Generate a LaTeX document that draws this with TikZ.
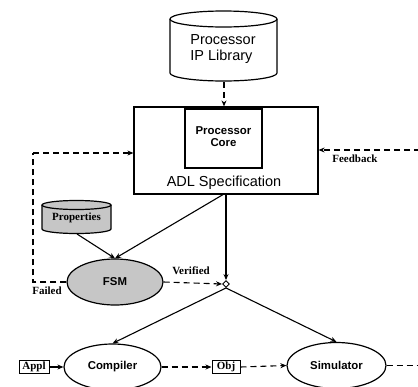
\documentclass[tikz,border=0pt]{standalone}
\usepackage{fontspec}
\setmainfont{Liberation Serif}
\setsansfont{Liberation Sans}
\usetikzlibrary{shapes.geometric,arrows.meta}
\tikzset{
  sanslab/.style={font=\sffamily\fontsize{14.5}{16}\selectfont, align=left, inner sep=0pt},
  sansbold/.style={font=\sffamily\bfseries\fontsize{11.4}{11.5}\selectfont, align=center, inner sep=0pt},
  serifbold/.style={font=\rmfamily\bfseries\fontsize{11}{12}\selectfont, inner sep=0pt},
  shapeline/.style={line width=1.2pt},
  conn/.style={line width=1.1pt, -{Stealth[length=6pt,width=5pt]}},
  dashconn/.style={conn, dash pattern=on 6pt off 4pt},
  dashline/.style={line width=1.1pt, dash pattern=on 6pt off 4pt},
  tagbox/.style={draw, line width=1pt, font=\rmfamily\bfseries\fontsize{11}{12}\selectfont, inner sep=1.2pt, minimum height=13pt},
  oval/.style={ellipse, draw, shapeline, inner sep=0pt},
}
\begin{document}
\begin{tikzpicture}[x=1pt,y=1pt]
\useasboundingbox (0,0) rectangle (418,-386);
\clip (0,0) rectangle (418,-386);
% Processor IP Library cylinder
\draw[shapeline, fill=white] (170,-19) -- (170,-73) arc[start angle=180, end angle=360, x radius=53.5, y radius=8] -- (277,-19);
\draw[shapeline] (223.5,-19) ellipse[x radius=53.5, y radius=8];
\node[sanslab] (iplib) at (223,-49.5) {Processor\\IP Library};
\coordinate (ipbot) at (224,-82);
% ADL specification
\node[draw, shapeline, minimum width=184pt, minimum height=87pt] (adl) at (226,-150.5) {};
\node[draw, shapeline, minimum width=77pt, minimum height=59pt] (core) at (223.5,-138.5) {};
\node[sansbold] (coretxt) at (223.5,-136.5) {Processor\\Core};
\node[sanslab] (adltxt) at (224,-183) {ADL Specification};
% Properties cylinder
\draw[shapeline, fill=gray!45] (42,-205) -- (42,-229) arc[start angle=180, end angle=360, x radius=34.5, y radius=4.5] -- (111,-205);
\draw[shapeline, fill=gray!45] (76.5,-205) ellipse[x radius=34.5, y radius=4.5];
\node[serifbold] (props) at (76.5,-217.5) {Properties};
\coordinate (propsb) at (77,-234);
% FSM
\node[oval, fill=gray!45, minimum width=96pt, minimum height=46pt] (fsm) at (115,-282) {};
\node[sansbold] (fsmtxt) at (115,-282) {FSM};
% junction
\node[diamond, draw, line width=0.9pt, fill=white, minimum width=7pt, minimum height=7pt, inner sep=0pt] (dia) at (226,-284) {};
% Compiler and Simulator
\node[oval, minimum width=97pt, minimum height=46pt] (comp) at (112.5,-367) {};
\node[sansbold] (comptxt) at (112.5,-367) {Compiler};
\node[oval, minimum width=99pt, minimum height=46pt] (sim) at (336.5,-365.5) {};
\node[sansbold] (simtxt) at (336.5,-365) {Simulator};
\node[tagbox, minimum width=30pt] (appl) at (34,-367) {Appl};
\node[tagbox, minimum width=28pt] (obj) at (226,-367) {Obj};
% labels
\node[serifbold] (failed) at (47,-291) {Failed};
\node[serifbold] (feedback) at (355,-159) {Feedback};
\node[serifbold] (verified) at (191,-271) {Verified};
% loop coordinates
\coordinate (lc) at (33,-282);
\coordinate (lt) at (33,-153);
\coordinate (fbr) at (420,-150);
\coordinate (simr) at (420,-365.5);
% connectors
\draw[dashconn] (ipbot) -- (ipbot |- adl.north);
\draw[dashline] (fsm.west) -- (lc) -- (lt);
\draw[dashconn] (lt) -- (lt -| adl.west);
\draw[dashconn] (fbr) -- (fbr -| adl.east);
\draw[conn] (propsb) -- (fsm.north);
\draw[conn] ([xshift=-3pt]adl.south) -- (fsm.north);
\draw[conn] (adl.south) -- (dia.north);
\draw[dashconn] (fsm.east) -- (dia.west);
\draw[conn] (dia.south) -- (comp.north);
\draw[conn] (dia.south) -- (sim.north);
\draw[conn] (appl.east) -- (comp.west);
\draw[dashconn] (comp.east) -- (obj.west);
\draw[dashconn] (obj.east) -- (sim.west);
\draw[dashline] (sim.east) -- (simr);
\end{tikzpicture}
\end{document}
